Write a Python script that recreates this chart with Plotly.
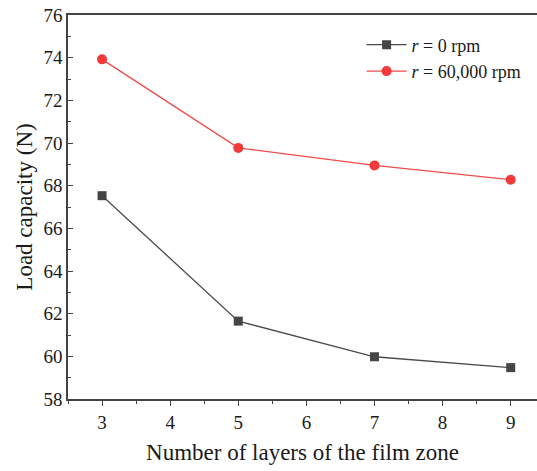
import plotly.graph_objects as go

# Load capacity versus number of film-zone layers
layers = [3, 5, 7, 9]
load_0rpm = [67.53, 61.65, 59.98, 59.47]
load_60krpm = [73.92, 69.77, 68.95, 68.28]

serif = "'Liberation Serif', 'Times New Roman', Times, serif"

fig = go.Figure()
fig.add_trace(go.Scatter(
    x=layers, y=load_0rpm, mode="lines+markers",
    name="<i>r</i> = 0 rpm",
    line=dict(color="#4a4a4a", width=1.3),
    marker=dict(symbol="square", size=9, color="#454545"),
))
fig.add_trace(go.Scatter(
    x=layers, y=load_60krpm, mode="lines+markers",
    name="<i>r</i> = 60,000 rpm",
    line=dict(color="#f04a4a", width=1.3),
    marker=dict(symbol="circle", size=10, color="#f23a3a"),
))

fig.update_layout(
    width=537, height=471,
    margin=dict(l=68, r=0, t=15, b=72),
    paper_bgcolor="white", plot_bgcolor="white",
    font=dict(family=serif, size=19, color="#1a1a1a"),
    showlegend=True,
    legend=dict(
        x=0.626, y=0.97, xanchor="left", yanchor="top",
        bgcolor="rgba(0,0,0,0)", font=dict(size=18, family=serif),
        tracegroupgap=0, itemwidth=40,
    ),
)

fig.update_xaxes(
    range=[2.5, 9.386], tickmode="array", tickvals=[3, 4, 5, 6, 7, 8, 9],
    showgrid=False, zeroline=False,
    showline=True, linecolor="#444444", linewidth=1.5, mirror=True,
    ticks="outside", ticklen=5, tickwidth=1.2, tickcolor="#444444",
    minor=dict(ticks="outside", ticklen=3, tickwidth=1, tickcolor="#444444", dtick=0.5, tick0=2.5, showgrid=False),
    tickfont=dict(size=19, family=serif),
    title=dict(text="Number of layers of the film zone", font=dict(size=23, family=serif), standoff=12),
)
fig.update_yaxes(
    range=[58, 76], dtick=2, tick0=58,
    showgrid=False, zeroline=False,
    showline=True, linecolor="#444444", linewidth=1.5, mirror=False,
    ticks="inside", ticklen=5, tickwidth=1.2, tickcolor="#444444",
    minor=dict(ticks="inside", ticklen=3, tickwidth=1, tickcolor="#444444", dtick=1, showgrid=False),
    tickfont=dict(size=19, family=serif),
    title=dict(text="Load capacity (N)", font=dict(size=23, family=serif), standoff=4),
)

fig.write_html("out.html")
